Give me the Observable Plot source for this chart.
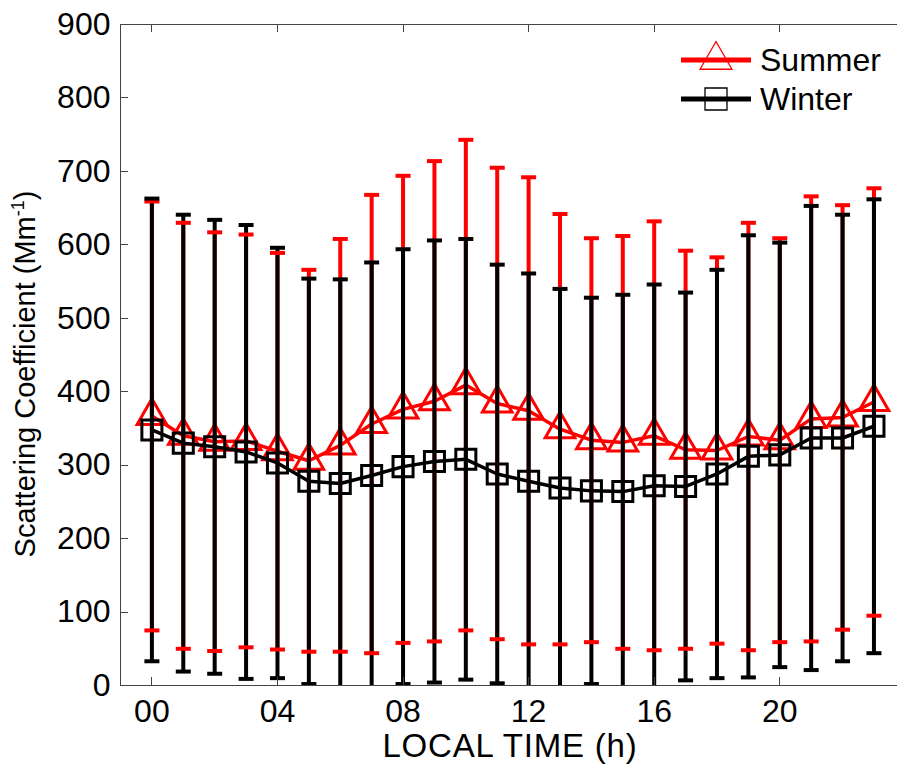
<!DOCTYPE html>
<html>
<head>
<meta charset="utf-8">
<script src="https://cdn.jsdelivr.net/npm/d3@7"></script>
<script src="https://cdn.jsdelivr.net/npm/@observablehq/plot@0.6"></script>
<style>
  html, body { margin: 0; padding: 0; background: #fff; }
  #chart { position: relative; width: 897px; height: 766px; }
</style>
</head>
<body>
<div id="chart"></div>
<script>
// ---- data ----
const hours = [0, 1, 2, 3, 4, 5, 6, 7, 8, 9, 10, 11, 12, 13, 14, 15, 16, 17, 18, 19, 20, 21, 22, 23];
const summerMean = [367, 340, 332, 333, 319, 306, 327, 356, 376, 387, 409, 384, 374, 349, 334, 331, 340, 321, 320, 339, 334, 363, 365, 386];
const summerSD   = [292, 290, 285, 281, 270, 260, 281, 312, 318, 327, 334, 321, 318, 293, 275, 281, 292, 271, 263, 291, 275, 303, 289, 291];
const winterMean = [348, 330, 325, 318, 303, 278, 275, 286, 298, 305, 308, 288, 278, 269, 265, 264, 272, 271, 288, 312, 314, 337, 337, 353];
const winterSD   = [315, 311, 309, 309, 293, 276, 278, 290, 296, 301, 300, 285, 283, 271, 263, 268, 274, 264, 278, 301, 289, 316, 304, 309];
const seriesNames = ["Summer", "Winter"];
const yTicks = [0, 100, 200, 300, 400, 500, 600, 700, 800, 900];
const xTicks = [0, 4, 8, 12, 16, 20];
const xDomain = [-1, 23.75];
const yDomain = [0, 900];
const xLabel = "LOCAL TIME (h)";
const yLabelMain = "Scattering Coefficient (Mm";
const yLabelSup = "-1";
const yLabelEnd = ")";

// ---- build tables ----
const build = (means, sds) => hours.map((h, i) => ({hour: h, mean: means[i], low: means[i] - sds[i], high: means[i] + sds[i]}));
const summer = build(summerMean, summerSD);
const winter = build(winterMean, winterSD);
const caps = rows => rows.flatMap(d => [{hour: d.hour, v: d.low}, {hour: d.hour, v: d.high}]);

const FONT = "'Liberation Sans', Arial, Helvetica, sans-serif";
const AXIS = "#444";
const RED = "#ff0000";

const capSymbol = {
  draw(context, size) {
    const w = Math.sqrt(size / Math.PI);
    context.moveTo(-w, 0);
    context.lineTo(w, 0);
  }
};

function innerTicks(index, scales, values, dimensions) {
  const {x, y} = scales;
  const {marginLeft, marginTop, marginBottom, height} = dimensions;
  const g = d3.create("svg:g").attr("stroke", AXIS).attr("stroke-width", 1).attr("fill", "none");
  const yb = height - marginBottom, yt = marginTop;
  for (const t of yTicks) {
    const yy = Math.round(y(t)) + 0.5;
    g.append("line").attr("x1", marginLeft).attr("x2", marginLeft + 8).attr("y1", yy).attr("y2", yy);
  }
  for (const t of xTicks) {
    const xx = Math.round(x(t)) + 0.5;
    g.append("line").attr("x1", xx).attr("x2", xx).attr("y1", yb).attr("y2", yb - 8);
    g.append("line").attr("x1", xx).attr("x2", xx).attr("y1", yt).attr("y2", yt + 8);
  }
  return g.node();
}

const chart = Plot.plot({
  width: 897,
  height: 766,
  marginLeft: 120,
  marginRight: 0,
  marginTop: 24,
  marginBottom: 81,
  style: {fontFamily: FONT, fontSize: "32px", color: "black", background: "white", overflow: "visible"},
  x: {domain: xDomain},
  y: {domain: yDomain},
  marks: [
    // frame (left, top, bottom)
    Plot.ruleY(yDomain, {stroke: AXIS, strokeWidth: 1}),
    Plot.ruleX([xDomain[0]], {stroke: AXIS, strokeWidth: 1}),
    // summer
    Plot.ruleX(summer, {x: "hour", y1: "low", y2: "high", stroke: RED, strokeWidth: 4, clip: true}),
    Plot.line(summer, {x: "hour", y: "mean", stroke: RED, strokeWidth: 3.5}),
    Plot.dot(summer, {x: "hour", y: "mean", symbol: "triangle", r: 11, stroke: RED, strokeWidth: 3, fill: "none"}),
    // winter stems
    Plot.ruleX(winter, {x: "hour", y1: "low", y2: "high", stroke: "black", strokeWidth: 4, clip: true}),
    // caps
    Plot.dot(caps(summer), {x: "hour", y: "v", symbol: capSymbol, r: 7.5, stroke: RED, strokeWidth: 4, fill: "none", strokeLinecap: "butt", clip: true}),
    Plot.dot(caps(winter), {x: "hour", y: "v", symbol: capSymbol, r: 7.5, stroke: "black", strokeWidth: 4, fill: "none", strokeLinecap: "butt", clip: true}),
    Plot.line(winter, {x: "hour", y: "mean", stroke: "black", strokeWidth: 3.5}),
    Plot.dot(winter, {x: "hour", y: "mean", symbol: "square", r: 11.3, stroke: "black", strokeWidth: 3, fill: "none"}),
    // axes
    Plot.axisY({ticks: yTicks, anchor: "left", tickSize: 0, tickPadding: 10, fontSize: 32, label: null}),
    Plot.axisX({ticks: xTicks, anchor: "bottom", tickSize: 0, tickPadding: 14, fontSize: 32, tickFormat: d3.format("02d"), label: null}),
    innerTicks
  ]
});

document.getElementById("chart").appendChild(chart);

// ---- axis titles and legend (real text) ----
const svg = d3.select(chart);

svg.append("text")
  .attr("x", 510).attr("y", 757)
  .attr("text-anchor", "middle")
  .attr("font-family", FONT).attr("font-size", 33).attr("letter-spacing", 0.8).attr("fill", "black")
  .text(xLabel);

const yl = svg.append("text")
  .attr("transform", "translate(35,374) rotate(-90)")
  .attr("text-anchor", "middle")
  .attr("font-family", FONT).attr("font-size", 29).attr("fill", "black");
yl.append("tspan").text(yLabelMain);
yl.append("tspan").attr("font-size", 18).attr("dy", -11).text(yLabelSup);
yl.append("tspan").attr("dy", 11).text(yLabelEnd);

const legend = svg.append("g");
const legendRows = [
  {name: seriesNames[0], color: RED, y: 60, symbol: d3.symbolTriangle, size: 443},
  {name: seriesNames[1], color: "black", y: 99, symbol: d3.symbolSquare, size: 484}
];
for (const row of legendRows) {
  legend.append("line")
    .attr("x1", 681).attr("x2", 751).attr("y1", row.y).attr("y2", row.y)
    .attr("stroke", row.color).attr("stroke-width", 5);
  legend.append("path")
    .attr("transform", `translate(716,${row.y})`)
    .attr("d", d3.symbol(row.symbol, row.size)())
    .attr("fill", "none").attr("stroke", row.color).attr("stroke-width", 1.3);
  legend.append("text")
    .attr("x", 760).attr("y", row.y + 11)
    .attr("text-anchor", "start")
    .attr("font-family", FONT).attr("font-size", 32).attr("fill", "black")
    .text(row.name);
}
</script>
</body>
</html>
